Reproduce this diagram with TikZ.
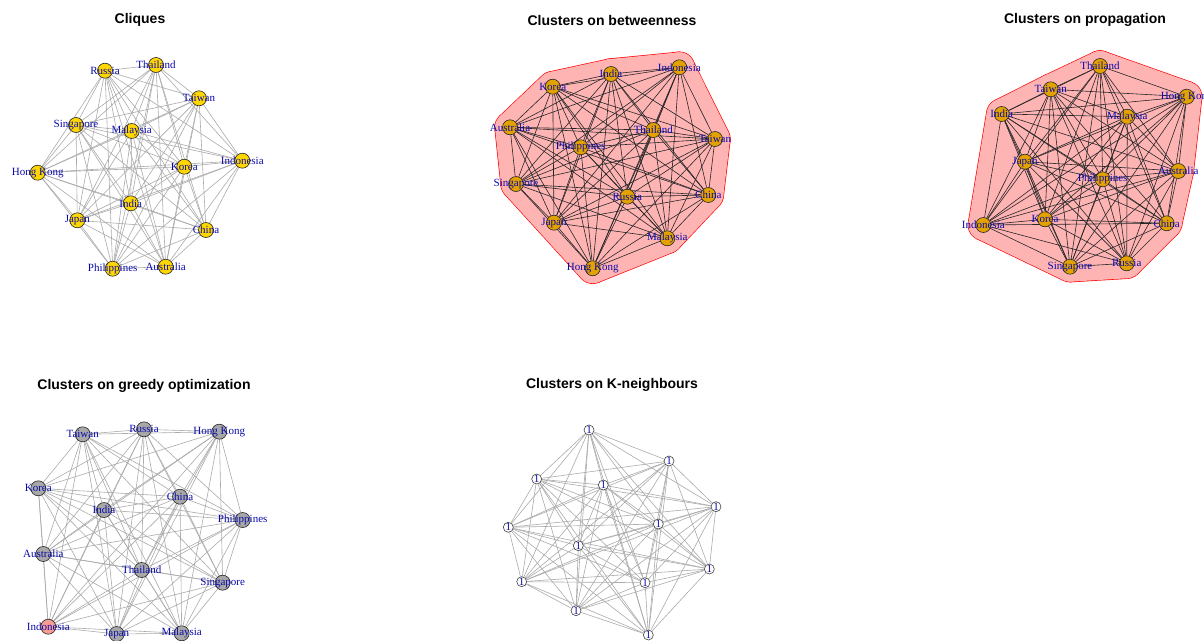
\documentclass[tikz,border=0pt]{standalone}
\usepackage{fontspec}
\setmainfont{Liberation Serif}
\newfontfamily\titlefont{Liberation Sans}
\usetikzlibrary{calc}
\pgfdeclarelayer{bglayer}
\pgfdeclarelayer{hulllayer}
\pgfdeclarelayer{edgelayer}
\pgfsetlayers{bglayer,hulllayer,edgelayer,main}
\definecolor{lblblue}{RGB}{10,10,170}
\definecolor{vgoldc}{RGB}{255,215,0}
\definecolor{vorange}{RGB}{228,162,0}
\definecolor{vgrayc}{RGB}{168,168,168}
\definecolor{vsalmon}{RGB}{248,156,148}
\definecolor{hullpink}{RGB}{255,180,180}
\tikzset{
  ttl/.style={font=\titlefont\bfseries\fontsize{14}{16}\selectfont, inner sep=0pt},
  lbl/.style={text=lblblue, font=\fontsize{11}{13}\selectfont, inner sep=0pt},
  vbase/.style={circle, draw=black!85, line width=0.6pt, minimum size=15pt, inner sep=0pt},
  vgold/.style={vbase, fill=vgoldc},
  vorg/.style={vbase, fill=vorange},
  vgray/.style={vbase, fill=vgrayc},
  vsmall/.style={circle, draw=black!75, line width=0.6pt, fill=white, minimum size=10pt, inner sep=0pt},
  elight/.style={draw=black!33, line width=0.6pt},
  edark/.style={draw=black!85, line width=0.6pt},
  hullline/.style={draw=red, line width=1.3pt},
  hullfill/.style={fill=hullpink},
  vstyle-DIndonesia/.style={fill=vsalmon},
}
\newcommand\network[4]{%
  \foreach \n/\x/\y/\t in {#4} {\node[#2, vstyle-#1\n/.try] (#1\n) at (\x,\y) {};}
  \begin{pgfonlayer}{edgelayer}
  \foreach \n/\x/\y/\t [count=\i] in {#4} {
    \foreach \m/\xx/\yy/\tt [count=\j] in {#4} {
      \ifnum\j>\i \draw[#3] (#1\n) -- (#1\m);\fi
    }
  }
  \end{pgfonlayer}
  \foreach \n/\x/\y/\t in {#4} {\node[lbl] at (#1\n) {\t};}
}
% expanded convex hull (hull polygon grown by 15pt): #1 prefix,
% #2 hull nodes clockwise with the first repeated at the end, #3 number of edges
\newcommand\hullshape[3]{%
  \begin{pgfonlayer}{hulllayer}
  \foreach \h [count=\k, remember=\h as \p (initially \h)] in {#2} {
    \ifnum\k>1
      \pgfmathtruncatemacro\e{\k-1}
      \coordinate (#1a\e) at ($(#1\p)!15pt!90:(#1\h)$);
      \coordinate (#1b\e) at ($(#1\h)!15pt!-90:(#1\p)$);
    \fi
  }
  \foreach \s in {hullline,hullfill} {
    \path[\s] (#1a1) \foreach \e in {1,...,#3} { -- (#1a\e) -- (#1b\e) } -- cycle;
    \foreach \h in {#2} {\path[\s] (#1\h.center) circle (15pt);}
  }
  \end{pgfonlayer}
}
\begin{document}
\begin{tikzpicture}[x=1pt,y=-1pt]
\useasboundingbox (0,0) rectangle (1204,640);
\begin{pgfonlayer}{bglayer}
\fill[white] (0,0) rectangle (1204,640);
\end{pgfonlayer}

% titles
\node[ttl] (t1) at (140,20) {Cliques};
\node[ttl] (t2) at (612,20) {Clusters on betweenness};
\node[ttl] (t3) at (1085,20) {Clusters on propagation};
\node[ttl] (t4) at (144,386) {Clusters on greedy optimization};
\node[ttl] (t5) at (612,385) {Clusters on K-neighbours};

% panel 1: cliques
\network{A}{vgold}{elight}{Russia/105/70.7/Russia, Thailand/156/65/Thailand, Taiwan/199/98.3/Taiwan,
 Singapore/76/125/Singapore, Malaysia/131.7/131/Malaysia, Indonesia/242.3/160.7/Indonesia,
 HongKong/37.7/172.7/Hong Kong, Korea/184.3/166.7/Korea, India/130.7/203.3/India,
 Japan/77.3/220.3/Japan, China/206/230/China, Philippines/112.7/268.7/Philippines,
 Australia/165.7/266.7/Australia}

% panel 2: betweenness
\network{B}{vorg}{edark}{Indonesia/679.3/67.3/Indonesia, India/611/74/India, Korea/552.7/86.7/Korea,
 Australia/510/127.3/Australia, Thailand/653.3/130/Thailand, Taiwan/715/139/Taiwan,
 Philippines/580.7/147.3/Philippines, Singapore/516/184/Singapore, Russia/627.3/196.7/Russia,
 China/708.3/195/China, Japan/554/222.7/Japan, Malaysia/667.3/238.3/Malaysia,
 HongKong/592.7/268.3/Hong Kong}
\hullshape{B}{Indonesia,Taiwan,China,Malaysia,HongKong,Singapore,Australia,Korea,India,Indonesia}{9}

% panel 3: propagation
\network{C}{vorg}{edark}{Thailand/1100/66/Thailand, Taiwan/1050.7/89.3/Taiwan, HongKong/1186.7/96.7/Hong Kong,
 India/1001.7/114/India, Malaysia/1127.3/116.7/Malaysia, Japan/1025/161.7/Japan,
 Australia/1178.3/171/Australia, Philippines/1102.7/179.3/Philippines, Korea/1045/219.3/Korea,
 Indonesia/983.3/225/Indonesia, China/1166.7/223.3/China, Singapore/1070/266.7/Singapore,
 Russia/1126.7/263.3/Russia}
\hullshape{C}{Thailand,HongKong,Australia,China,Russia,Singapore,Indonesia,India,Taiwan,Thailand}{9}

% panel 4: greedy
\network{D}{vgray}{elight}{Taiwan/82.7/434.3/Taiwan, Russia/144/429.3/Russia, HongKong/219.3/431.7/Hong Kong,
 Korea/38.3/488.3/Korea, China/180/496.7/China, India/104/510/India,
 Philippines/242.7/520/Philippines, Australia/43.3/554/Australia, Thailand/141.7/570/Thailand,
 Singapore/222.7/582.7/Singapore, Indonesia/48.3/626.7/Indonesia, Japan/116.7/634/Japan,
 Malaysia/181.7/633.3/Malaysia}

% panel 5: K-neighbours
\network{E}{vsmall}{elight}{k1/589/430/1, k2/669/461/1, k3/536.7/479/1, k4/603.3/485/1,
 k5/716/506.7/1, k6/508.3/527.3/1, k7/658.3/524/1, k8/578.3/545.7/1, k9/709.3/569/1,
 k10/521.7/581.7/1, k11/645/582.7/1, k12/576/610.7/1, k13/648.3/635/1}
\end{tikzpicture}
\end{document}
